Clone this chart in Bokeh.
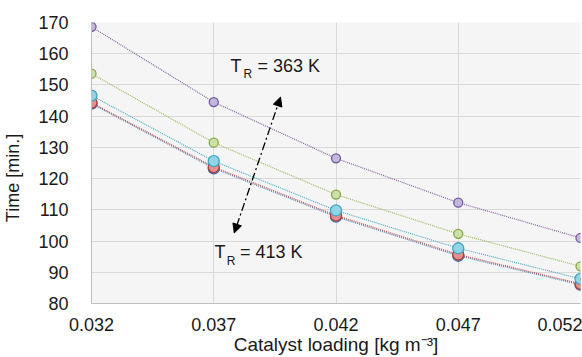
from bokeh.plotting import figure
from bokeh.models import Arrow, NormalHead, Label, FixedTicker
from bokeh.embed import file_html
from bokeh.resources import INLINE

loading = [0.032, 0.037, 0.042, 0.047, 0.052]
x_ticks = [0.032, 0.037, 0.042, 0.047, 0.052]
y_ticks = [80, 90, 100, 110, 120, 130, 140, 150, 160, 170]

t_363 = [168.6, 144.5, 126.5, 112.3, 101.0]
t_373 = [153.6, 131.5, 114.9, 102.3, 91.9]
t_383 = [146.6, 125.6, 109.8, 97.7, 87.9]
t_393 = [144.3, 123.7, 108.2, 95.7, 86.3]
t_413 = [144.0, 123.3, 107.8, 95.3, 86.0]

series = [
    (t_413, "#4f81bd", "#95b3d7", "#3c6aa6", 11),
    (t_393, "#c0504d", "#e6908d", "#b0403d", 11),
    (t_383, "#4bacc6", "#93d3e6", "#3fa5c2", 11),
    (t_373, "#9bbb59", "#cde0a8", "#85a84a", 9),
    (t_363, "#8064a2", "#c4b5db", "#7059a0", 9),
]

FONT = "Liberation Sans"

p = figure(width=582, height=357, output_backend="svg", toolbar_location=None,
           x_range=(0.032, 0.052), y_range=(80, 170),
           min_border_left=88, min_border_right=2, min_border_top=22, min_border_bottom=54)
p.background_fill_color = "#f5f5f5"
p.border_fill_color = "white"
p.outline_line_color = None

p.xgrid.grid_line_color = "#d9d9d9"
p.ygrid.grid_line_color = "#d9d9d9"
p.xaxis.ticker = FixedTicker(ticks=x_ticks)
p.yaxis.ticker = FixedTicker(ticks=y_ticks)
p.xaxis.major_label_overrides = {t: f"{t:.3f}" for t in x_ticks}

for ax in (p.xaxis, p.yaxis):
    ax.axis_line_color = "#bfbfbf"
    ax.major_tick_line_color = None
    ax.minor_tick_line_color = None
    ax.major_label_text_font = FONT
    ax.major_label_text_font_size = "18px"
    ax.major_label_text_color = "#1a1a1a"
    ax.axis_label_text_font = FONT
    ax.axis_label_text_font_size = "18px"
    ax.axis_label_text_font_style = "normal"
    ax.axis_label_text_color = "#1a1a1a"

p.xaxis.axis_label_text_font_size = "19px"
p.yaxis.major_label_standoff = 17
p.xaxis.major_label_standoff = 8
p.xaxis.axis_label = "Catalyst loading [kg m\u207b\u00b3]"
p.yaxis.axis_label = "Time [min.]" + "\u00a0" * 6
p.xaxis.axis_label_standoff = 0
p.yaxis.axis_label_standoff = 12

for vals, lc, fc, ec, sz in series:
    p.line(loading, vals, line_color=lc, line_width=1.2, line_dash="1 1")
for vals, lc, fc, ec, sz in series:
    p.scatter(loading, vals, size=sz, fill_color=fc, line_color=ec, line_width=1.3)

arrow_x = [0.03973, 0.03784]
arrow_y = [146.1, 102.6]
p.add_layout(Arrow(x_start=arrow_x[0], y_start=arrow_y[0], x_end=arrow_x[1], y_end=arrow_y[1],
                   line_color="black", line_width=1.3, line_dash="8 3 2 3",
                   start=NormalHead(size=9, fill_color="black", line_color="black"),
                   end=NormalHead(size=9, fill_color="black", line_color="black")))

def tlabel(x_t, x_r, x_rest, y, rest):
    p.add_layout(Label(x=x_t, y=y, text="T", text_font=FONT, text_font_size="18px",
                       text_color="#1a1a1a"))
    p.add_layout(Label(x=x_r, y=y - 1.7, text="R", text_font=FONT, text_font_size="12px",
                       text_color="#1a1a1a"))
    p.add_layout(Label(x=x_rest, y=y, text=rest, text_font=FONT, text_font_size="18px",
                       text_color="#1a1a1a"))

tlabel(0.03769, 0.03822, 0.03879, 153.0, "= 363 K")
tlabel(0.03703, 0.03753, 0.03807, 93.2, "= 413 K")

open("out.html", "w").write(file_html(p, INLINE))
